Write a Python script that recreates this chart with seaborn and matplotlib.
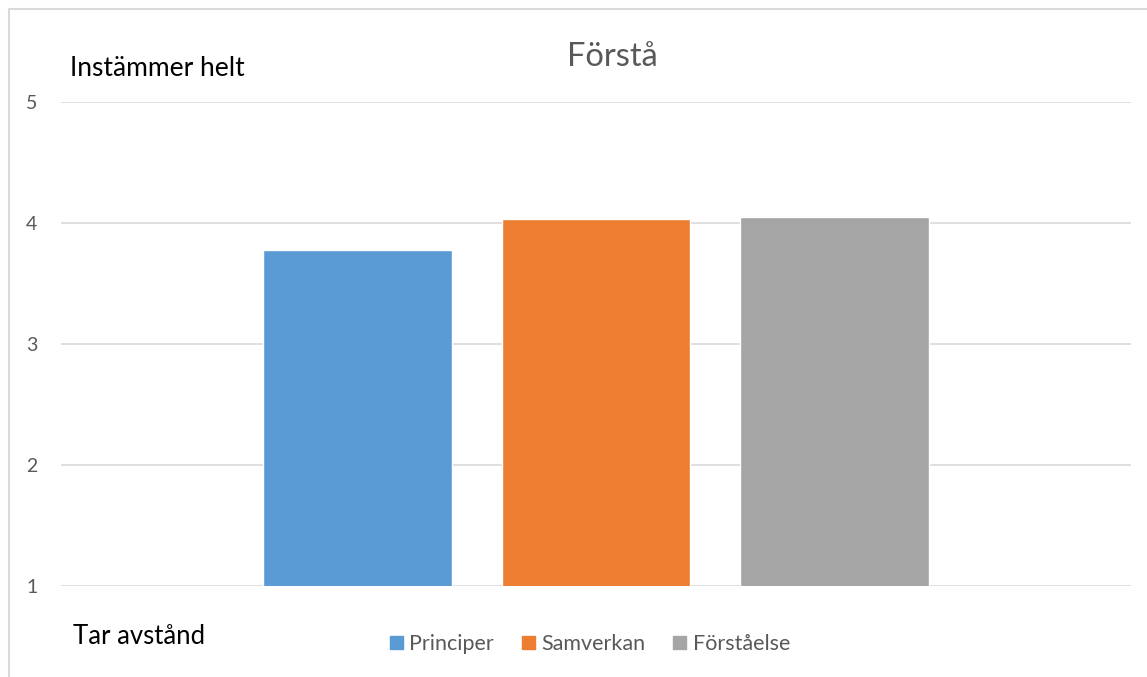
import matplotlib
matplotlib.use("Agg")
import matplotlib.pyplot as plt
import seaborn as sns
import pandas as pd
from matplotlib.lines import Line2D

series = ["Principer", "Samverkan", "Förståelse"]
values = [3.78, 4.035, 4.05]
colors = ["#5B9BD5", "#ED7D31", "#A5A5A5"]
yticks = [1, 2, 3, 4, 5]
title = "Förstå"
top_label = "Instämmer helt"
bottom_label = "Tar avstånd"

sns.set_theme(style="white")
plt.rcParams["font.family"] = ["Lato", "DejaVu Sans"]

df = pd.DataFrame({"cat": [""] * len(series), "serie": series, "värde": values})

W, H = 1147, 677
fig = plt.figure(figsize=(W / 100, H / 100), dpi=100)
ax = fig.add_axes([61 / W, 1 - 586 / H, (1131 - 61) / W, (586 - 102) / H])

sns.barplot(data=df, x="cat", y="värde", hue="serie", palette=colors,
            hue_order=series, width=0.6685, gap=0.21, saturation=1,
            ax=ax, legend=False, errorbar=None)

ax.set_xlim(-0.5, 0.5)
ax.set_ylim(1, 5)
ax.set_yticks(yticks)
ax.set_yticklabels([str(t) for t in yticks])
ax.set_xticks([])
ax.set_xlabel("")
ax.set_ylabel("")
ax.grid(axis="y", color="#D9D9D9", linewidth=1.2)
ax.set_axisbelow(True)
for s in ax.spines.values():
    s.set_visible(False)
ax.tick_params(axis="y", length=0, pad=17, labelsize=14, labelcolor="#595959")

fig.text(612 / W, 1 - 57 / H, title, ha="center", va="center", fontsize=23.5, color="#595959")
fig.text(70 / W, 1 - 68 / H, top_label, ha="left", va="center", fontsize=19, color="#000000")
fig.text(73 / W, 1 - 637 / H, bottom_label, ha="left", va="center", fontsize=18.5, color="#000000")

handles = [plt.Rectangle((0, 0), 1, 1, color=c) for c in colors]
fig.legend(handles, series, loc="center", bbox_to_anchor=(590 / W, 1 - 644 / H),
           ncol=3, frameon=False, fontsize=15.5, handlelength=0.6, handleheight=0.6,
           handletextpad=0.3, columnspacing=1.3, labelcolor="#595959")

fig.add_artist(Line2D([9 / W, 9 / W], [0, 1 - 9 / H], transform=fig.transFigure,
                      color="#D9D9D9", linewidth=1.5))
fig.add_artist(Line2D([9 / W, 1], [1 - 9 / H, 1 - 9 / H], transform=fig.transFigure,
                      color="#D9D9D9", linewidth=1.5))

fig.savefig("out.png", dpi=100, facecolor="white")
